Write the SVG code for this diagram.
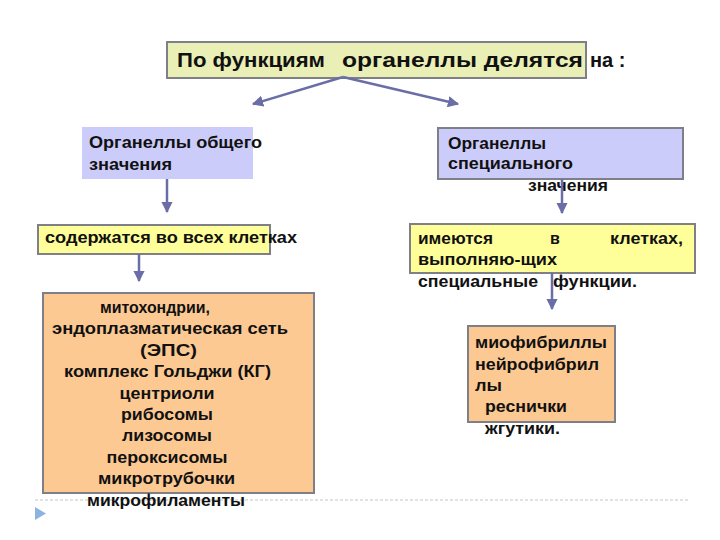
<svg xmlns="http://www.w3.org/2000/svg" width="720" height="540" viewBox="0 0 720 540">
<defs>
<marker id="ah" viewBox="0 0 10 10" refX="9" refY="5" markerWidth="4.5" markerHeight="4.5" orient="auto" markerUnits="strokeWidth">
<path d="M0,0 L10,5 L0,10 Z" fill="#6b6ea6"/>
</marker>
<style>
text{font-family:"Liberation Sans",Arial,sans-serif;font-weight:bold;fill:#111;}
.t{font-size:20px;}
.b{font-size:16px;}
.box{stroke:#7f7f87;stroke-width:2;}
.yel{fill:#ffff99;}
.ora{fill:#fdc993;}
.pur{fill:#ccccfa;}
.con{stroke:#6b6ea6;stroke-width:2.5;fill:none;marker-end:url(#ah);}
</style>
</defs>
<rect width="720" height="540" fill="#ffffff"/>
<line x1="35" y1="500" x2="688" y2="500" stroke="#c4c4c4" stroke-width="1" stroke-dasharray="3,2"/>
<polygon points="35,507 46,513.5 35,520" fill="#8db3e2"/>

<g id="title">
<rect class="box" x="167" y="42" width="419" height="36" fill="#e9efb5"/>
<text class="t" x="177" y="67" textLength="148" lengthAdjust="spacingAndGlyphs">По функциям</text>
<text class="t" x="342" y="67" textLength="241" lengthAdjust="spacingAndGlyphs">органеллы делятся</text>
<text class="t" x="590" y="67">на :</text>
</g>

<g id="general">
<rect class="pur" x="82" y="127" width="171" height="52"/>
<text class="b" x="89" y="148" textLength="173" lengthAdjust="spacingAndGlyphs">Органеллы общего</text>
<text class="b" x="89" y="170" textLength="83" lengthAdjust="spacingAndGlyphs">значения</text>
</g>

<g id="special">
<rect class="box pur" x="438" y="128" width="245" height="51"/>
<text class="b" x="448" y="149" textLength="98" lengthAdjust="spacingAndGlyphs">Органеллы</text>
<text class="b" x="448" y="169" textLength="125" lengthAdjust="spacingAndGlyphs">специального</text>
<text class="b" x="528" y="191" textLength="80" lengthAdjust="spacingAndGlyphs">значения</text>
</g>

<g id="all-cells">
<rect class="box yel" x="38" y="225" width="232" height="29"/>
<text class="b" x="45" y="243" textLength="252" lengthAdjust="spacingAndGlyphs">содержатся во всех клетках</text>
</g>

<g id="some-cells">
<rect class="box yel" x="410" y="224" width="285" height="49"/>
<text class="b" x="418" y="244" textLength="75" lengthAdjust="spacingAndGlyphs">имеются</text>
<text class="b" x="550" y="244">в</text>
<text class="b" x="610" y="244" textLength="73" lengthAdjust="spacingAndGlyphs">клетках,</text>
<text class="b" x="418" y="265" textLength="139" lengthAdjust="spacingAndGlyphs">выполняю-щих</text>
<text class="b" x="418" y="287" textLength="120" lengthAdjust="spacingAndGlyphs">специальные</text>
<text class="b" x="553" y="287" textLength="84" lengthAdjust="spacingAndGlyphs">функции.</text>
</g>

<g id="general-list">
<rect class="box ora" x="43" y="293" width="271" height="200"/>
<text class="b" x="100" y="313" textLength="110" lengthAdjust="spacingAndGlyphs">митохондрии,</text>
<text class="b" x="52" y="334" textLength="236" lengthAdjust="spacingAndGlyphs">эндоплазматическая сеть</text>
<text class="b" x="140" y="356" textLength="57" lengthAdjust="spacingAndGlyphs">(ЭПС)</text>
<text class="b" x="64" y="377" textLength="207" lengthAdjust="spacingAndGlyphs">комплекс Гольджи (КГ)</text>
<text class="b" x="119.5" y="399" textLength="95" lengthAdjust="spacingAndGlyphs">центриоли</text>
<text class="b" x="121" y="420" textLength="92" lengthAdjust="spacingAndGlyphs">рибосомы</text>
<text class="b" x="122" y="441" textLength="90" lengthAdjust="spacingAndGlyphs">лизосомы</text>
<text class="b" x="106.5" y="463" textLength="121" lengthAdjust="spacingAndGlyphs">пероксисомы</text>
<text class="b" x="98" y="484" textLength="137" lengthAdjust="spacingAndGlyphs">микротрубочки</text>
<text class="b" x="87" y="506" textLength="158" lengthAdjust="spacingAndGlyphs">микрофиламенты</text>
</g>

<g id="special-list">
<rect class="box ora" x="468" y="326" width="147" height="96"/>
<text class="b" x="475" y="348" textLength="132" lengthAdjust="spacingAndGlyphs">миофибриллы</text>
<text class="b" x="475" y="370" textLength="124" lengthAdjust="spacingAndGlyphs">нейрофибрил</text>
<text class="b" x="475" y="391" textLength="27" lengthAdjust="spacingAndGlyphs">лы</text>
<text class="b" x="485" y="412" textLength="82" lengthAdjust="spacingAndGlyphs">реснички</text>
<text class="b" x="485" y="434" textLength="75" lengthAdjust="spacingAndGlyphs">жгутики.</text>
</g>

<g id="connectors">
<line class="con" x1="343" y1="77" x2="253" y2="104"/>
<line class="con" x1="343" y1="77" x2="458" y2="104"/>
<line class="con" x1="167" y1="179" x2="167" y2="212"/>
<line class="con" x1="139" y1="254" x2="139" y2="281"/>
<line class="con" x1="562" y1="179" x2="562" y2="213"/>
<line class="con" x1="552" y1="273" x2="552" y2="309"/>
</g>
</svg>
